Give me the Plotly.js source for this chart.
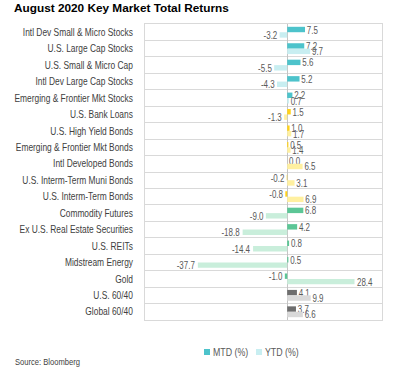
<!DOCTYPE html>
<html><head><meta charset="utf-8">
<script src="https://cdn.plot.ly/plotly-3.0.1.min.js"></script>
<style>body{margin:0;background:#fff}#c{width:394px;height:370px}</style>
</head><body><div id="c"></div>
<script>
const categories = ["Intl Dev Small & Micro Stocks","U.S. Large Cap Stocks","U.S. Small & Micro Cap","Intl Dev Large Cap Stocks","Emerging & Frontier Mkt Stocks","U.S. Bank Loans","U.S. High Yield Bonds","Emerging & Frontier Mkt Bonds","Intl Developed Bonds","U.S. Interm-Term Muni Bonds","U.S. Interm-Term Bonds","Commodity Futures","Ex U.S. Real Estate Securities","U.S. REITs","Midstream Energy","Gold","U.S. 60/40","Global 60/40"];
const groups = ["eq","eq","eq","eq","eq","fi","fi","fi","fi","fi","fi","ra","ra","ra","ra","ra","bal","bal"];
const mtd = [7.5,7.2,5.6,5.2,2.2,1.5,1.0,0.5,0.0,-0.2,-0.8,6.8,4.2,0.8,0.5,-1.0,4.1,3.7];
const ytd = [-3.2,9.7,-5.5,-4.3,0.7,-1.3,1.7,1.4,6.5,3.1,6.9,-9.0,-18.8,-14.4,-37.7,28.4,9.9,6.6];

const mtdColors = {eq:"#4dc3cb", fi:"#ffd21a", ra:"#5cc696", bal:"#6e6e6e"};
const ytdColors = {eq:"#c8eef1", fi:"#fff0a0", ra:"#c9eedb", bal:"#d9d9d9"};

const FONT = "Liberation Sans, Arial, sans-serif";
const textFont = {family:FONT, size:10.5, color:"#595959"};
const common = {type:"bar", orientation:"h", y:categories, textposition:"outside", constraintext:"none", cliponaxis:false, textfont:textFont, texttemplate:"%{x:.1f}", hoverinfo:"x+y"};

const data = [
  Object.assign({}, common, {name:"MTD (%)", x:mtd, marker:{color:groups.map(g=>mtdColors[g])}}),
  Object.assign({}, common, {name:"YTD (%)", x:ytd, marker:{color:groups.map(g=>ytdColors[g])}})
];

const layout = {
  width:394, height:370,
  margin:{l:145, r:12, t:24, b:39},
  paper_bgcolor:"#fff", plot_bgcolor:"#fff",
  font:{family:FONT, color:"#404040"},
  title:{text:"<b>August 2020 Key Market Total Returns</b>", x:14/394, xanchor:"left", yref:"container", y:1-4/370, yanchor:"top", pad:{t:0,b:0,l:0,r:0}, font:{family:FONT, size:11.8, color:"#000"}},
  barmode:"group", bargap:0.34, bargroupgap:0,
  showlegend:true,
  legend:{orientation:"h", x:0.5, xanchor:"center", y:-0.03, yanchor:"top", font:{size:11, color:"#595959"}, traceorder:"normal"},
  xaxis:{range:[-60,40], showticklabels:false, showgrid:false, zeroline:true, zerolinecolor:"#c4c4c4", zerolinewidth:1, showline:true, mirror:true, linecolor:"#d9d9d9", ticks:"", fixedrange:true},
  yaxis:{autorange:"reversed", type:"category", tickson:"boundaries", showgrid:true, gridcolor:"#d9d9d9", gridwidth:1, ticks:"", ticklabelstandoff:9, showline:true, mirror:true, linecolor:"#d9d9d9", tickfont:{size:10.5, color:"#404040"}},
  annotations:[{text:"Source: Bloomberg", xref:"paper", yref:"paper", x:-130/237, xanchor:"left", y:-31/307, yanchor:"middle", showarrow:false, font:{size:9.5, color:"#404040"}}]
};

// condensed look (Arial Narrow in the original): horizontally squeeze text around a pivot
function narrow(el, s, where){
  const b = el.getBBox();
  const p = where==="start" ? b.x : where==="end" ? b.x+b.width : b.x+b.width/2;
  const t = el.getAttribute("transform")||"";
  el.setAttribute("transform", t+` translate(${p},0) scale(${s},1) translate(${-p},0)`);
}
function shift(el, dx, dy){
  const t = el.getAttribute("transform")||"";
  el.setAttribute("transform", `translate(${dx},${dy}) `+t);
}

Plotly.newPlot("c", data, layout, {displayModeBar:false, staticPlot:true}).then(gd=>{
  gd.querySelectorAll(".ytick text").forEach(el=>narrow(el,0.8,"end"));
  gd.querySelectorAll(".bartext").forEach(el=>narrow(el,0.76,"middle"));
  gd.querySelectorAll(".annotation-text").forEach(el=>narrow(el,0.8,"start"));
  const targets = [[207,352],[259,352]];
  gd.querySelectorAll(".legend .traces").forEach((g,i)=>{
    const path = g.querySelector(".legendpoints path");
    const txt = g.querySelector(".legendtext");
    if(path) path.setAttribute("transform",(path.getAttribute("transform")||"")+" scale(0.5)");
    if(txt) narrow(txt,0.8,"start");
    if(path && txt){
      const pr = path.getBoundingClientRect(), tr = txt.getBoundingClientRect();
      shift(txt, pr.right+3-tr.left, 0);
      const pr2 = path.getBoundingClientRect();
      const cx = pr2.left+pr2.width/2, cy = pr2.top+pr2.height/2;
      shift(g, targets[i][0]-cx, targets[i][1]-cy);
    }
  });
  const ann = gd.querySelector(".annotation-text");
  if(ann){ const r = ann.getBoundingClientRect(); shift(ann, 15-r.left, 362-(r.top+r.height/2)); }
});
</script></body></html>
